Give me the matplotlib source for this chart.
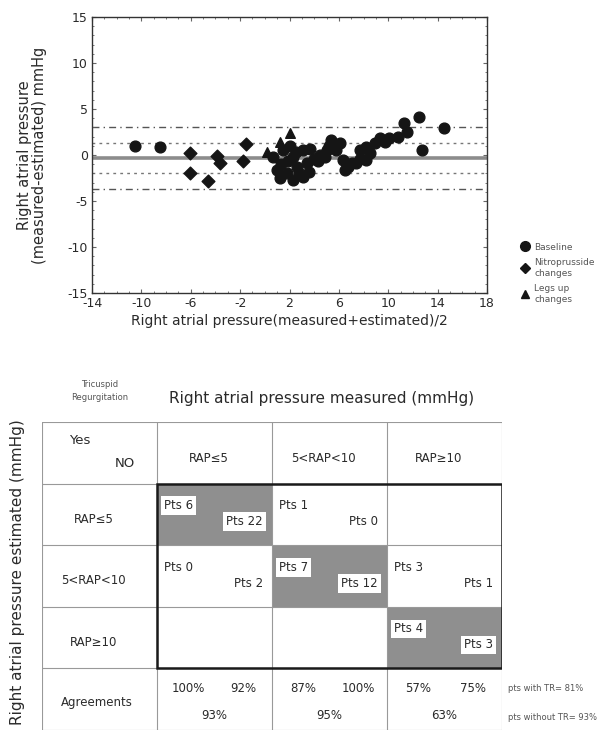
import matplotlib.pyplot as plt
from matplotlib.patches import Rectangle
from matplotlib.lines import Line2D
from matplotlib.ticker import MultipleLocator

plt.rcParams['axes.unicode_minus'] = False

# Bland-Altman data
baseline_x = [-10.5, -8.5, 0.7, 1.0, 1.2, 1.3, 1.5, 1.8, 1.9, 2.0, 2.3, 2.3, 2.5, 2.6, 2.8,
              3.1, 3.1, 3.4, 3.6, 3.65, 4.0, 4.3, 4.5, 4.9, 5.0, 5.2, 5.4, 5.8, 6.1, 6.35,
              6.5, 6.75, 7.1, 7.4, 7.7, 7.7, 8.2, 8.2, 8.5, 8.9, 9.3, 9.7, 10.1, 10.8,
              11.3, 11.5, 12.5, 12.7, 14.5]
baseline_y = [1.0, 0.9, -0.2, -1.6, -2.5, -1.0, 0.5, -2.0, -0.6, 1.0, -0.2, -2.7, 0.3, -1.3, -2.0,
              0.5, -2.4, -0.9, -1.8, 0.7, -0.4, -0.7, 0.0, -0.2, 0.5, 1.0, 1.6, 0.5, 1.3, -0.5,
              -1.6, -1.3, -0.9, -0.9, 0.5, -0.4, 0.9, -0.5, 0.2, 1.3, 1.8, 1.45, 1.8, 2.0,
              3.5, 2.5, 4.1, 0.55, 2.9]
nitro_x = [-6.1, -6.1, -4.6, -3.9, -3.6, -1.55, -1.8]
nitro_y = [0.25, -2.0, -2.8, -0.1, -0.9, 1.15, -0.65]
legs_x = [0.15, 1.2, 2.0]
legs_y = [0.35, 1.4, 2.4]

mean_diff = -0.35
inner_limits = [1.3, -1.95]
outer_limits = [3.0, -3.7]

x_ticks = [-14, -10, -6, -2, 2, 6, 10, 14, 18]
y_ticks = [-15, -10, -5, 0, 5, 10, 15]

# Contingency table data
rap_classes = ['RAP≤5', '5<RAP<10', 'RAP≥10']
pts_tr = [[6, 1, None], [0, 7, 3], [None, None, 4]]
pts_no_tr = [[22, 0, None], [2, 12, 1], [None, None, 3]]
agree_tr = ['100%', '87%', '57%']
agree_no_tr = ['92%', '100%', '75%']
agree_all = ['93%', '95%', '63%']
notes = ['pts with TR= 81%', 'pts without TR= 93%']

W, H = 614, 733
fig = plt.figure(figsize=(W / 100, H / 100), dpi=100)
txt = '#2a2a2a'

# --- top chart ---
ax = fig.add_axes([92 / W, 1 - 293 / H, 395 / W, 276 / H])
ax.scatter(baseline_x, baseline_y, s=60, marker='o', color='#151515', zorder=3)
ax.scatter(nitro_x, nitro_y, s=42, marker='D', color='#151515', zorder=3)
ax.scatter(legs_x, legs_y, s=48, marker='^', color='#151515', zorder=3)
ax.axhline(mean_diff, color='#8c8c8c', lw=2.6, zorder=1)
for v in inner_limits:
    ax.axhline(v, color='#777777', lw=1.0, ls=(0, (2, 3)), zorder=1)
for v in outer_limits:
    ax.axhline(v, color='#555555', lw=1.0, ls=(0, (5, 3, 1, 3)), zorder=1)
ax.set_xlim(-14, 18)
ax.set_ylim(-15, 15)
ax.set_xticks(x_ticks)
ax.set_yticks(y_ticks)
ax.xaxis.set_minor_locator(MultipleLocator(1))
ax.yaxis.set_minor_locator(MultipleLocator(1))
ax.tick_params(which='both', direction='in', top=True, right=True, color='#666666',
               labelsize=9, labelcolor=txt, pad=3)
ax.tick_params(which='major', length=3)
ax.tick_params(which='minor', length=1.5)
for s in ax.spines.values():
    s.set_color('#333333')
    s.set_linewidth(1.0)
ax.set_xlabel('Right atrial pressure(measured+estimated)/2', fontsize=10, color=txt, labelpad=3)
ax.set_ylabel('Right atrial pressure\n(measured-estimated) mmHg', fontsize=10.5, color=txt,
              linespacing=1.0)
ax.yaxis.set_label_coords(-0.115, 0.5)

handles = [Line2D([], [], ls='none', marker='o', ms=7, color='#151515'),
           Line2D([], [], ls='none', marker='D', ms=5, color='#151515'),
           Line2D([], [], ls='none', marker='^', ms=6, color='#151515')]
fig.legend(handles, ['Baseline', 'Nitroprusside\nchanges', 'Legs up\nchanges'],
           loc='upper left', bbox_to_anchor=(516 / W, 1 - 238 / H), frameon=False,
           fontsize=6.5, labelcolor='#555555', handletextpad=0.5, labelspacing=0.75,
           handlelength=1.0, borderpad=0)

# --- bottom table ---
tb = fig.add_axes([42 / W, 1 - 730 / H, 460 / W, 308 / H])
tb.set_xlim(0, 4)
tb.set_ylim(5, 0)
tb.axis('off')

for c in range(5):
    tb.plot([c, c], [0, 5], color='#999999', lw=0.8)
for r in range(6):
    tb.plot([0, 4], [r, r], color='#999999', lw=0.8)
# diagonal agreement cells shaded
for i in range(3):
    tb.add_patch(Rectangle((i + 1, i + 1), 1, 1, facecolor='#8f8f8f', edgecolor='none', zorder=1))
tb.add_patch(Rectangle((1, 1), 3, 3, facecolor='none', edgecolor='#1a1a1a', lw=1.8, zorder=4))

fs = 8.5
tb.text(0.33, 0.3, 'Yes', fontsize=9.5, color=txt, ha='center', va='center')
tb.text(0.72, 0.68, 'NO', fontsize=9.5, color=txt, ha='center', va='center')
for j, lab in enumerate(rap_classes):
    tb.text(j + 1.45, 0.6, lab, fontsize=fs, color=txt, ha='center', va='center')
    tb.text(0.45, j + 1.58, lab, fontsize=fs, color=txt, ha='center', va='center')
tb.text(0.48, 4.56, 'Agreements', fontsize=fs, color=txt, ha='center', va='center')

box = dict(facecolor='white', edgecolor='none', pad=2)
for i in range(3):
    for j in range(3):
        if pts_tr[i][j] is None:
            continue
        tb.text(j + 1.06, i + 1.36, f'Pts {pts_tr[i][j]}', fontsize=fs, color=txt,
                ha='left', va='center', bbox=box, zorder=3)
        tb.text(j + 1.92, i + 1.62, f'Pts {pts_no_tr[i][j]}', fontsize=fs, color=txt,
                ha='right', va='center', bbox=box, zorder=3)

for j in range(3):
    tb.text(j + 1.27, 4.32, agree_tr[j], fontsize=fs, color=txt, ha='center', va='center')
    tb.text(j + 1.75, 4.32, agree_no_tr[j], fontsize=fs, color=txt, ha='center', va='center')
    tb.text(j + 1.5, 4.76, agree_all[j], fontsize=fs, color=txt, ha='center', va='center')

tb.text(4.05, 4.32, notes[0], fontsize=6, color='#555555', ha='left', va='center', clip_on=False)
tb.text(4.05, 4.8, notes[1], fontsize=6, color='#555555', ha='left', va='center', clip_on=False)

fig.text(322 / W, 1 - 398 / H, 'Right atrial pressure measured (mmHg)', fontsize=11,
         color=txt, ha='center', va='center')
fig.text(100 / W, 1 - 391 / H, 'Tricuspid\nRegurgitation', fontsize=6, color='#555555',
         ha='center', va='center', linespacing=1.5)
fig.text(18 / W, 1 - 572 / H, 'Right atrial pressure estimated (mmHg)', fontsize=11,
         color=txt, ha='center', va='center', rotation=90)

fig.savefig('out.png', dpi=100)
